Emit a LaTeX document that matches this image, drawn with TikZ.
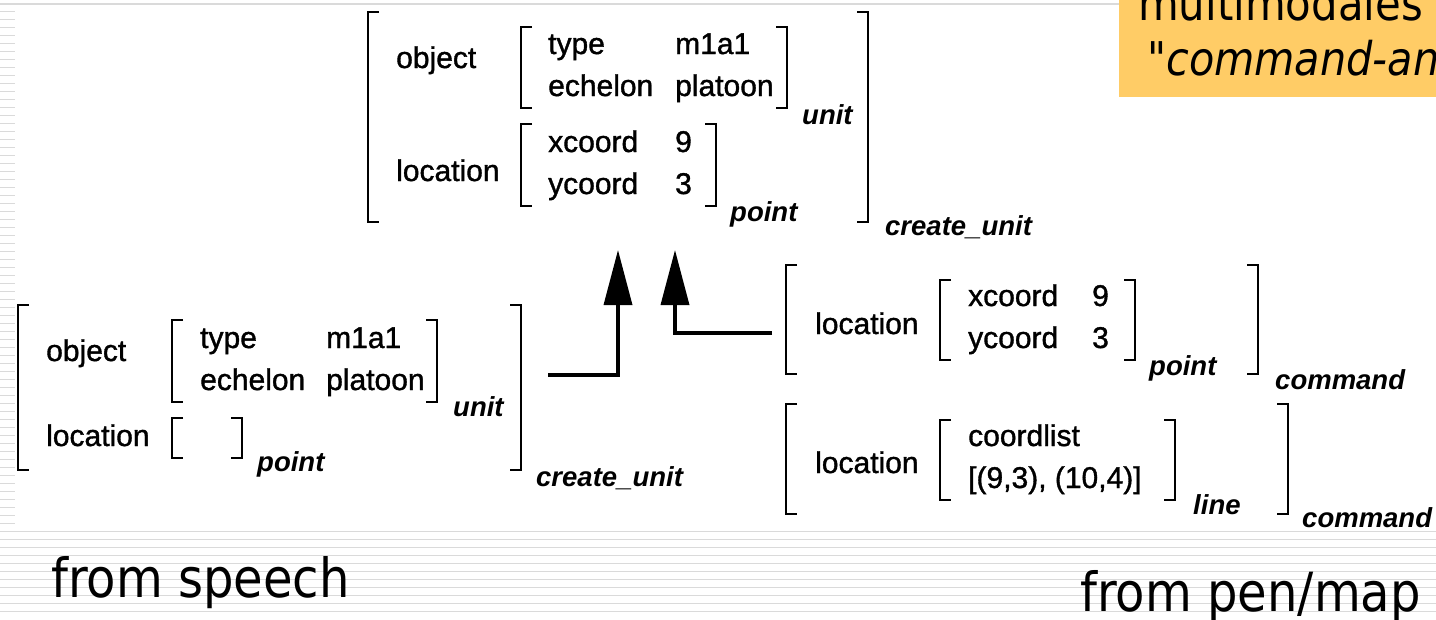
\documentclass[tikz,border=0pt]{standalone}
\usepackage{fontspec}
\setmainfont{Liberation Sans}
\newfontfamily\featfont[FakeBold=1.2]{Liberation Sans}
\newfontfamily\slidefont[FakeStretch=0.89]{DejaVu Sans}
\usetikzlibrary{arrows.meta}
\definecolor{stripegray}{HTML}{DADADA}
\definecolor{notegold}{HTML}{FFCC66}
\newcommand\avmfont{\featfont\fontsize{30}{36}\selectfont}
\newcommand\typfont{\fontsize{27.5}{33}\selectfont\bfseries\itshape}
% left and right square brackets of a feature structure: x, top, bottom
\newcommand\lbr[3]{\draw[brk] ({#1+11},#2) -- (#1,#2) -- (#1,#3) -- ({#1+11},#3);}
\newcommand\rbr[3]{\draw[brk] ({#1-11},#2) -- (#1,#2) -- (#1,#3) -- ({#1-11},#3);}
\begin{document}
\begin{tikzpicture}[x={(1pt,0)},y={(0,-1pt)},
  avm/.style={font=\avmfont, inner sep=0pt, anchor=base west},
  typ/.style={font=\typfont, inner sep=0pt, anchor=base west},
  slide/.style={font=\slidefont\fontsize{54}{60}\selectfont, inner sep=0pt, anchor=base west},
  brk/.style={line width=1.7pt},
  feed/.style={line width=3.5pt, -{Triangle[length=55pt,width=28pt]}},
  stripe/.style={draw=stripegray, line width=1.4pt}]
\useasboundingbox (0,0) rectangle (1436,619);
\fill[white] (0,0) rectangle (1436,619);
\clip (0,0) rectangle (1436,619);

% slide background rules
\draw[stripe] (0,4) -- (1119,4);
\foreach \k in {0,...,64} \draw[stripe] (0,{11.7+8*\k}) -- (15,{11.7+8*\k});
\foreach \k in {65,...,75} \draw[stripe] (0,{11.7+8*\k}) -- (1436,{11.7+8*\k});

% title box
\fill[notegold] (1119,0) rectangle (1436,97);
\node[slide, font=\slidefont\fontsize{47}{52}\selectfont] (title1) at (1138,20) {multimodales};
\node[slide, font=\slidefont\fontsize{46.5}{52}\selectfont\itshape] (title2) at (1147,75) {"command-an};

% merged structure (top)
\lbr{368}{12}{222} \rbr{868}{12}{222}
\node[avm] (m-obj) at (396,68) {object};
\lbr{521}{27}{108} \rbr{787}{27}{108}
\node[avm] (m-type) at (548,54) {type};
\node[avm] (m-m1a1) at (675,54) {m1a1};
\node[avm] (m-ech) at (548,96) {echelon};
\node[avm] (m-plt) at (675,96) {platoon};
\node[typ] (m-unit) at (802,124) {unit};
\node[avm] (m-loc) at (396,181) {location};
\lbr{521}{124}{206} \rbr{716}{124}{206}
\node[avm] (m-x) at (548,152) {xcoord};
\node[avm] (m-xv) at (675,152) {9};
\node[avm] (m-y) at (548,194) {ycoord};
\node[avm] (m-yv) at (675,194) {3};
\node[typ] (m-point) at (730,221) {point};
\node[typ] (m-cu) at (885,235) {create\_unit};

% structure from speech (left)
\lbr{18}{305}{470} \rbr{521}{305}{470}
\node[avm] (s-obj) at (46,361) {object};
\lbr{172}{320}{402} \rbr{437}{320}{402}
\node[avm] (s-type) at (200,348) {type};
\node[avm] (s-m1a1) at (326,348) {m1a1};
\node[avm] (s-ech) at (200,390) {echelon};
\node[avm] (s-plt) at (326,390) {platoon};
\node[typ] (s-unit) at (453,416) {unit};
\node[avm] (s-loc) at (46,446) {location};
\lbr{172}{418}{458} \rbr{242}{418}{458}
\node[typ] (s-point) at (257,471) {point};
\node[typ] (s-cu) at (536,486) {create\_unit};

% point command from pen (right, upper)
\lbr{786}{265}{374} \rbr{1258}{265}{374}
\node[avm] (p-loc) at (815,334) {location};
\lbr{940}{280}{360} \rbr{1135}{280}{360}
\node[avm] (p-x) at (968,306) {xcoord};
\node[avm] (p-xv) at (1092,306) {9};
\node[avm] (p-y) at (968,348) {ycoord};
\node[avm] (p-yv) at (1092,348) {3};
\node[typ] (p-point) at (1149,375) {point};
\node[typ] (p-cmd) at (1275,389) {command};

% line command from pen (right, lower)
\lbr{786}{404}{514} \rbr{1288}{404}{514}
\node[avm] (l-loc) at (815,473) {location};
\lbr{940}{420}{500} \rbr{1175}{420}{500}
\node[avm] (l-cl) at (968,446) {coordlist};
\node[avm] (l-val) at (968,488) {[(9,3), (10,4)]};
\node[typ] (l-line) at (1193,514) {line};
\node[typ] (l-cmd) at (1302,527) {command};

% unification arrows
\coordinate (src1) at (548,375);
\coordinate (tip1) at (618,250);
\coordinate (src2) at (772,333);
\coordinate (tip2) at (675,250);
\draw[feed] (src1) -| (tip1);
\draw[feed] (src2) -| (tip2);

% source captions
\node[slide] (cap-speech) at (51,597) {from speech};
\node[slide] (cap-pen) at (1080,611) {from pen/map};
\end{tikzpicture}
\end{document}
